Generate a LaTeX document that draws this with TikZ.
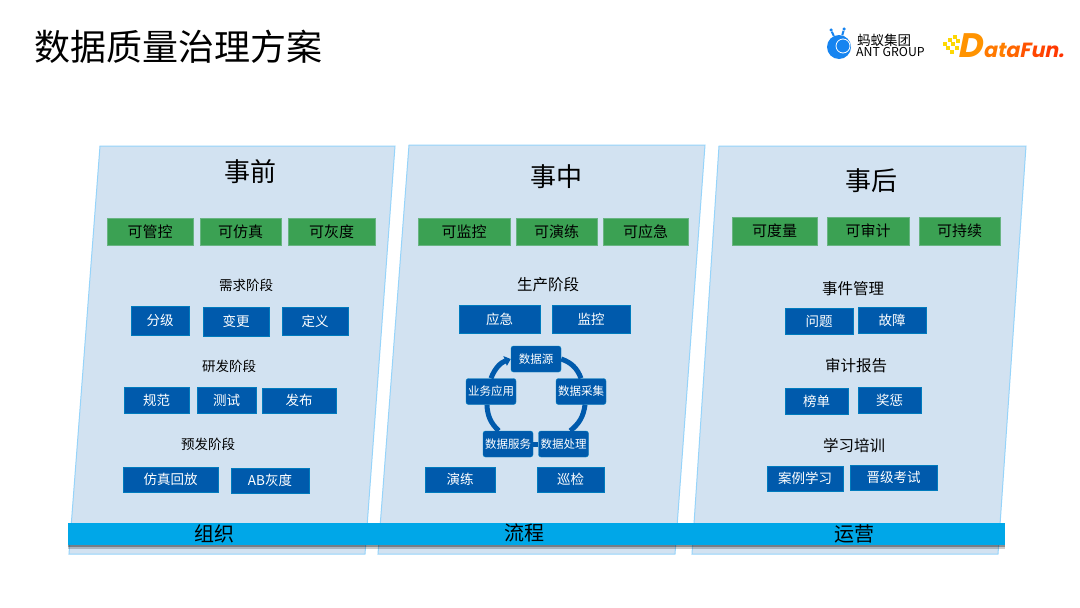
\documentclass[tikz,border=0pt]{standalone}
\usepackage{fontspec}
\setmainfont{Noto Sans CJK SC}
\newfontfamily\logofont[FakeSlant=0.2]{Poppins}
\usepackage{xcolor}
\usetikzlibrary{arrows.meta,positioning}
\definecolor{panelfill}{RGB}{210, 226, 241}
\definecolor{panelline}{RGB}{150, 212, 250}
\definecolor{leaf}{RGB}{59, 161, 83}
\definecolor{hhi}{RGB}{0, 90, 172}
\definecolor{bar}{RGB}{0, 167, 232}
\definecolor{antblue}{RGB}{22, 132, 240}

\begin{document}
\begin{tikzpicture}[
    x=1pt, y=-1pt,
    panel/.style={draw=panelline, fill=panelfill, line width=1pt},
    head/.style={font=\fontsize{26}{30}\selectfont, text=black},
    lab/.style={font=\fontsize{#1}{18}\selectfont, text=black},
    lab/.default=13.5,
    g/.style 2 args={draw=leaf!70!panelfill, fill=leaf, text=black, inner sep=0pt,
              minimum width=#1, minimum height=#2, font=\fontsize{15}{18}\selectfont},
    b/.style 2 args={draw=hhi!80!cyan, fill=hhi, text=white, inner sep=0pt,
              minimum width=#1, minimum height=#2, font=\fontsize{13.5}{16}\selectfont},
    c/.style={draw=hhi!75!cyan, fill=hhi, text=white, rounded corners=2.5pt, inner sep=0pt,
              minimum width=50, minimum height=26, font=\fontsize{11.5}{14}\selectfont},
    ring/.style={draw=hhi, line width=5pt},
    barshade/.style={fill=black, opacity=#1, minimum width=937, minimum height=22, inner sep=0pt},
    tiny/.style={fill=#1, inner sep=0pt, minimum size=3.6}
]
\useasboundingbox (0,0) rectangle (1080,608);
\fill[white] (0,0) rectangle (1080,608);

% title
\node[anchor=west, inner sep=0pt, font=\fontsize{36}{40}\selectfont, text=black] (title) at (34,47) {数据质量治理方案};

% logos
\node[circle, fill=antblue, minimum size=24, inner sep=0pt] (ant) at (839,47) {};
\node[circle, draw=white, line width=0.8pt, minimum size=14, inner sep=0pt] (anteye) at (843,46) {};
\node[circle, fill=antblue, minimum size=3.5, inner sep=0pt] (anta) at (831,30) {};
\node[circle, fill=antblue, minimum size=3.5, inner sep=0pt] (antb) at (844,29) {};
\draw[antblue, line width=2pt] (anta) -- (ant);
\draw[antblue, line width=2pt] (antb) -- (ant);
\node[anchor=west, inner sep=0pt, font=\fontsize{13.5}{15}\selectfont, text=black] (antcn) at (857,40) {蚂蚁集团};
\node[anchor=west, inner sep=0pt, font=\fontsize{12.3}{14}\selectfont, text=black] (anten) at (856,52) {ANT GROUP};
\node[anchor=base west, inner sep=0pt, font=\logofont\bfseries\fontsize{20.5}{26}\selectfont] (dfd) at (957,57)
    {\textcolor{orange!85!yellow}{\fontsize{34}{36}\selectfont D}};
\node[anchor=base west, inner sep=0pt, font=\logofont\bfseries\fontsize{20.5}{26}\selectfont] (df) at (983,57)
    {\textcolor{orange!95!red}{a}\textcolor{orange}{t}\textcolor{orange!80!red}{a}\textcolor{orange!65!red}{F}\textcolor{orange!55!red}{u}\textcolor{orange!45!red}{n}\textcolor{orange!40!red}{.}};
\foreach \px/\py in {945/44, 950/40, 955/37, 948/48, 953/44, 958/41, 952/52, 957/48}
    \node[tiny=yellow!75!orange] at (\px,\py) {};

% panels
\draw[panel] (100,146) -- (395,146) -- (365,554) -- (69,554) -- cycle;
\draw[panel] (409,145) -- (705,145) -- (675,554) -- (378,554) -- cycle;
\draw[panel] (719,146) -- (1026,146) -- (998,554) -- (692,554) -- cycle;

% bar
\node[barshade=0.2] (shadea) at (536.5,537.5) {};
\node[barshade=0.3] (shadeb) at (536.5,536) {};
\node[fill=bar, minimum width=937, minimum height=22, inner sep=0pt] (barline) at (536.5,534) {};
\node[lab=20] (org) at (214,534) {组织};
\node[lab=20] (flow) at (524,533) {流程};
\node[lab=20] (ops) at (854,534) {运营};

% left panel
\node[head] (pre) at (250,172) {事前};
\node[g={86}{27}] (g1) at (150,231.5) {可管控};
\node[g={81}{27}] (g2) at (240.5,231.5) {可仿真};
\node[g={87}{27}] (g3) at (331.5,231.5) {可灰度};
\node[lab] (l1) at (246,285) {需求阶段};
\node[b={58}{29}] (p1) at (160,320.5) {分级};
\node[b={66}{29}] (p2) at (236,321.5) {变更};
\node[b={66}{28}] (p3) at (315,321) {定义};
\node[lab] (l2) at (229,366) {研发阶段};
\node[b={65}{26}] (p4) at (156.5,400) {规范};
\node[b={59}{26}] (p5) at (226.5,400) {测试};
\node[b={74}{25}] (p6) at (299,400.5) {发布};
\node[lab] (l3) at (208,444) {预发阶段};
\node[b={95}{25}] (p7) at (170.5,479.5) {仿真回放};
\node[b={78}{25}] (p8) at (270,480.5) {AB灰度};

% middle panel
\node[head] (mid) at (556,177) {事中};
\node[g={92}{27}] (g4) at (464,231.5) {可监控};
\node[g={81}{27}] (g5) at (556.5,231.5) {可演练};
\node[g={85}{27}] (g6) at (645.5,231.5) {可应急};
\node[lab=15.5] (l4) at (548,285) {生产阶段};
\node[b={81}{28}] (m1) at (499.5,319) {应急};
\node[b={78}{28}] (m2) at (591,319) {监控};
\node[c] (src) at (536,359) {数据源};
\node[c] (col) at (581,391.5) {数据采集};
\node[c] (prc) at (563.5,444) {数据处理};
\node[c] (srv) at (508,444) {数据服务};
\node[c] (app) at (491,391.5) {业务应用};
\node[b={70}{25}] (m3) at (460,479.5) {演练};
\node[b={67}{25}] (m4) at (570.5,479.5) {巡检};

% right panel
\node[head] (post) at (871,181) {事后};
\node[g={85}{28}] (g7) at (774.5,231) {可度量};
\node[g={82}{28}] (g8) at (868,231) {可审计};
\node[g={81}{28}] (g9) at (959.5,231) {可持续};
\node[lab=15.5] (l5) at (853,289) {事件管理};
\node[b={68}{26}] (r1) at (819,321) {问题};
\node[b={68}{26}] (r2) at (892,320) {故障};
\node[lab=15.5] (l6) at (856,366) {审计报告};
\node[b={63}{26}] (r3) at (816.5,401) {榜单};
\node[b={63}{26}] (r4) at (889.5,400) {奖惩};
\node[lab=15.5] (l7) at (854,446) {学习培训};
\node[b={76}{25}] (r5) at (805,478.5) {案例学习};
\node[b={87}{25}] (r6) at (893.5,477.5) {晋级考试};

% cycle
\draw[ring] (src.east) to[bend left=25] (col.north);
\draw[ring] (col.-73) to[bend left=22] (prc.63);
\draw[ring] (prc) -- (srv);
\draw[ring] (srv.125) to[bend left=22] (app.-107);
\draw[ring, -{Triangle[length=6pt, width=10pt]}] (app.north) to[bend left=25] (src.west);
\end{tikzpicture}
\end{document}
